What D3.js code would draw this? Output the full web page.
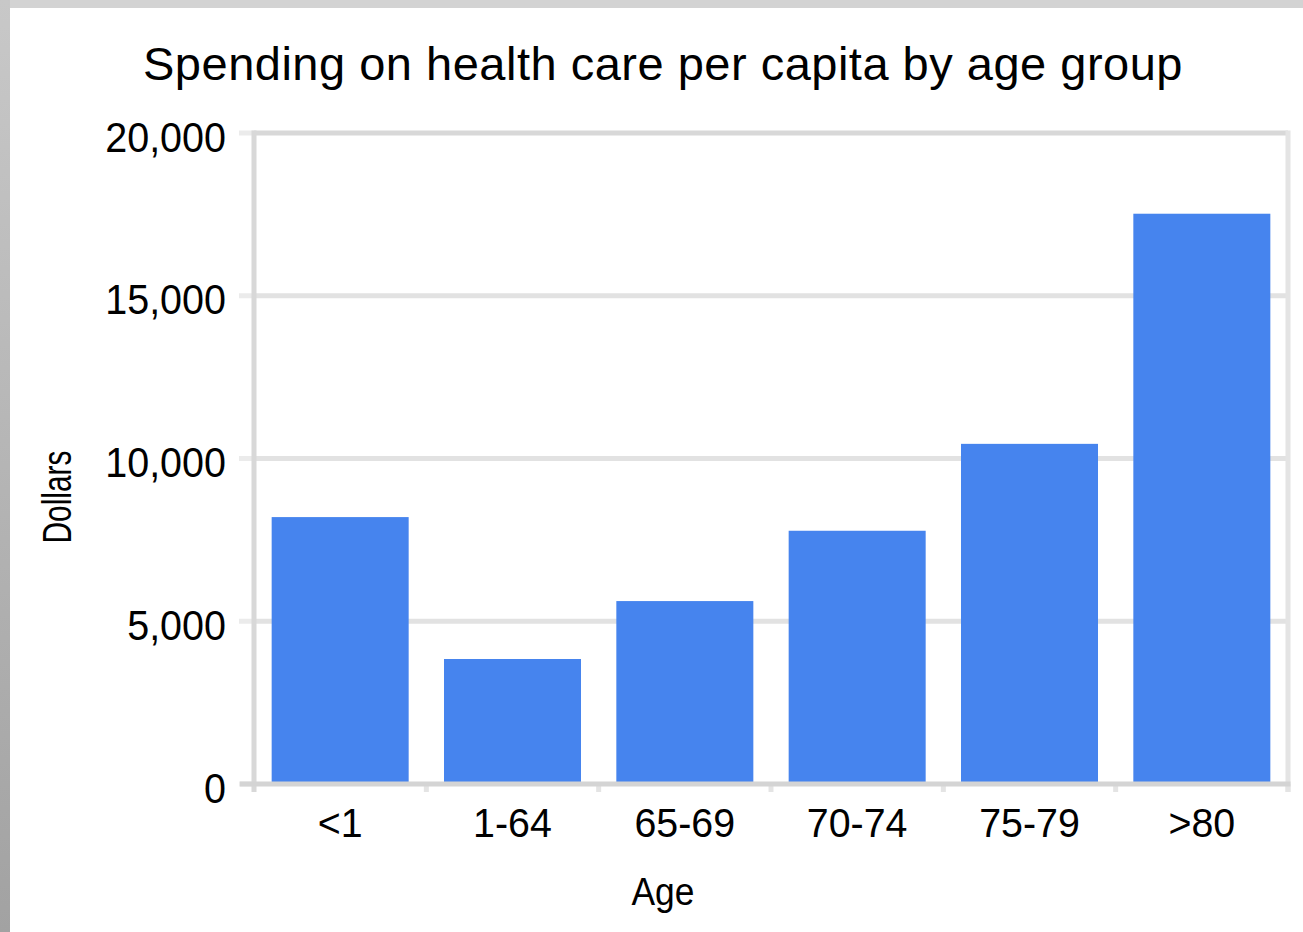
<!DOCTYPE html>
<html>
<head>
<meta charset="utf-8">
<script src="https://cdn.jsdelivr.net/npm/d3@7"></script>
<style>
  html, body { margin: 0; padding: 0; background: #fff; }
  svg { display: block; }
  text { font-family: "Liberation Sans", Arial, sans-serif; fill: #000; }
</style>
</head>
<body>
<svg id="chart" width="1303" height="932"></svg>
<script>
const categories = ["<1", "1-64", "65-69", "70-74", "75-79", ">80"];
const values = [8200, 3840, 5620, 7780, 10450, 17520];
const yTicks = [0, 5000, 10000, 15000, 20000];
const title = "Spending on health care per capita by age group";
const xTitle = "Age";
const yTitle = "Dollars";

(function () {
const svg = d3.select("#chart");
const W = 1303, H = 932;
const pLeft = 254, pRight = 1288, pTop = 133, pBottom = 784;

// frame
const defs = svg.append("defs");
const grad = defs.append("linearGradient").attr("id", "lg").attr("x1", 0).attr("y1", 0).attr("x2", 0).attr("y2", 1);
grad.append("stop").attr("offset", "0%").attr("stop-color", "#c8c8c8");
grad.append("stop").attr("offset", "100%").attr("stop-color", "#a2a2a2");
svg.append("rect").attr("x", 0).attr("y", 0).attr("width", W).attr("height", 8).attr("fill", "#d3d3d3");
svg.append("rect").attr("x", 0).attr("y", 0).attr("width", 10).attr("height", H).attr("fill", "url(#lg)");

const x = d3.scaleBand().domain(categories).range([pLeft, pRight]).paddingInner(0.205).paddingOuter(0.1025);
const xOuter = d3.scaleBand().domain(categories).range([pLeft, pRight]);
const y = d3.scaleLinear().domain([0, 20000]).range([pBottom, pTop]);

// gridlines
svg.append("g").selectAll("line").data(yTicks.filter(d => d > 0)).join("line")
  .attr("x1", pLeft).attr("x2", pRight)
  .attr("y1", d => y(d)).attr("y2", d => y(d))
  .attr("stroke", d => d === 20000 ? "#d8d8d8" : "#e2e2e2").attr("stroke-width", 5);

// y tick stubs
svg.append("g").selectAll("line").data(yTicks).join("line")
  .attr("x1", 239).attr("x2", pLeft)
  .attr("y1", d => y(d)).attr("y2", d => y(d))
  .attr("stroke", "#ebebeb").attr("stroke-width", 5);

// right border
svg.append("line").attr("x1", pRight).attr("x2", pRight).attr("y1", pTop - 2.5).attr("y2", pBottom + 8)
  .attr("stroke", "#e4e4e4").attr("stroke-width", 5);

// bars
svg.append("g").selectAll("rect").data(categories).join("rect")
  .attr("x", d => x(d))
  .attr("width", x.bandwidth())
  .attr("y", (d, i) => y(values[i]))
  .attr("height", (d, i) => y(0) - y(values[i]))
  .attr("fill", "#4684ee");

// x tick marks at band boundaries
const bounds = categories.map(c => xOuter(c)).concat([pRight]);
svg.append("g").selectAll("line").data(bounds.slice(1)).join("line")
  .attr("x1", d => d).attr("x2", d => d)
  .attr("y1", pBottom).attr("y2", pBottom + 8)
  .attr("stroke", "#e4e4e4").attr("stroke-width", 5);

// left axis line
svg.append("line").attr("x1", pLeft).attr("x2", pLeft).attr("y1", pTop - 2.5).attr("y2", pBottom + 8)
  .attr("stroke", "#d8d8d8").attr("stroke-width", 5);
// bottom axis line
svg.append("line").attr("x1", pLeft - 14).attr("x2", pRight + 2.5).attr("y1", pBottom).attr("y2", pBottom)
  .attr("stroke", "#d4d4d4").attr("stroke-width", 5);

// y tick labels
const fmt = d3.format(",");
svg.append("g").selectAll("text").data(yTicks).join("text")
  .attr("x", 226).attr("y", d => y(d) + 4)
  .attr("text-anchor", "end").attr("dominant-baseline", "central")
  .attr("font-size", 42)
  .text(d => fmt(d))
  .each(function() { this.setAttribute("textLength", this.getComputedTextLength() * 0.94); this.setAttribute("lengthAdjust", "spacingAndGlyphs"); });

// x labels
svg.append("g").selectAll("text").data(categories).join("text")
  .attr("x", d => xOuter(d) + xOuter.bandwidth() / 2)
  .attr("y", 837)
  .attr("text-anchor", "middle")
  .attr("font-size", 41)
  .text(d => d)
  .each(function() { this.setAttribute("textLength", this.getComputedTextLength() * 0.96); this.setAttribute("lengthAdjust", "spacingAndGlyphs"); });

// title
svg.append("text").attr("x", 663).attr("y", 80).attr("text-anchor", "middle")
  .attr("font-size", 47).attr("font-weight", "normal")
  .style("letter-spacing", "0.5px")
  .text(title);

// axis titles
svg.append("text").attr("x", 663).attr("y", 905).attr("text-anchor", "middle")
  .attr("font-size", 39).text(xTitle)
  .attr("textLength", 63).attr("lengthAdjust", "spacingAndGlyphs");

svg.append("text").attr("transform", "translate(71,497) rotate(-90)")
  .attr("text-anchor", "middle")
  .attr("font-size", 41)
  .attr("textLength", 93).attr("lengthAdjust", "spacingAndGlyphs")
  .text(yTitle);
})();
</script>
</body>
</html>
